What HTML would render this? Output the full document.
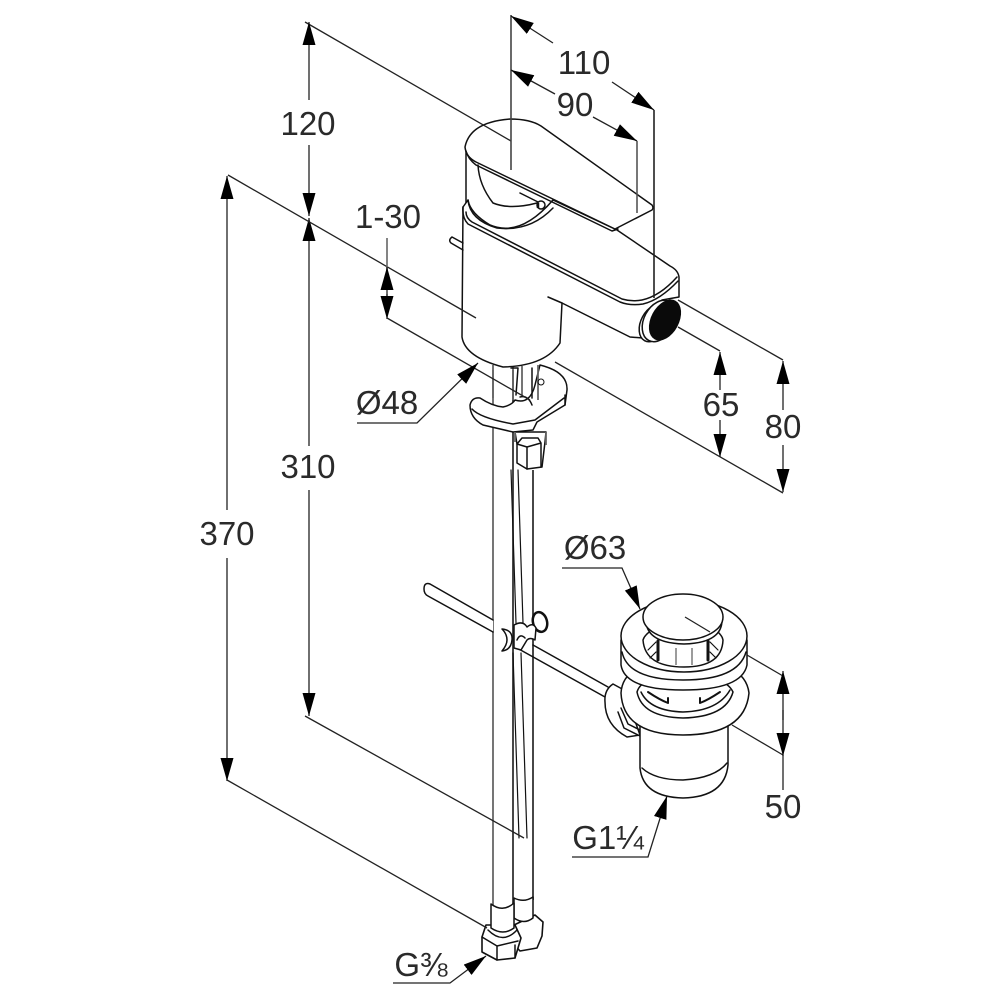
<!DOCTYPE html>
<html><head><meta charset="utf-8"><style>
html,body{margin:0;padding:0;background:#fff}
svg{display:block}
text{font-family:"Liberation Sans",Arial,sans-serif;font-size:33px;fill:#2a2a2a;text-anchor:middle}
.d{stroke:#222;stroke-width:1.3;fill:none}
.a{stroke:#111;stroke-width:1.5;fill:none;stroke-linejoin:round;stroke-linecap:round}
.w{stroke:#111;stroke-width:1.5;fill:#fff;stroke-linejoin:round;stroke-linecap:round}
.g{stroke:#666;stroke-width:1.8;fill:none}
</style></head><body>
<svg width="1000" height="1000" viewBox="0 0 1000 1000" xmlns="http://www.w3.org/2000/svg">
<defs><marker id="m" markerUnits="userSpaceOnUse" markerWidth="26" markerHeight="14" refX="23" refY="6.5" orient="auto"><path d="M0 0L23 6.5L0 13z" fill="#000"/></marker></defs>
<rect width="1000" height="1000" fill="#fff"/>

<!-- long pipes -->
<path class="g" d="M493 370V905"/>
<path d="M513 370V905M533 470V900" stroke="#333" stroke-width="1.8" fill="none"/>
<path class="a" d="M511 470L516 623M518 470L523 623M513 653L519 838M521 653L527 838" style="stroke-width:1.2"/>

<!-- rod -->
<path class="w" d="M493 620L430 584Q424 582 424 589Q424 594 428 596L493 632"/>
<path class="a" d="M533 645L608 687M517 648L605 697"/>
<!-- knob and clamp -->
<ellipse class="w" cx="540" cy="622" rx="7" ry="10" style="stroke-width:2.5" transform="rotate(-15 540 622)"/>
<path class="w" d="M514 625Q523 620 527 627Q533 622 536 628L535 640Q530 637 527 640L521 650L514 648Z"/>
<path class="w" d="M502 629Q513 630 512 640Q511 650 502 651Q507 645 507 640Q507 634 502 629Z"/>
<path class="a" d="M517 640Q520 633 525 638"/>

<!-- base nuts -->
<path class="w" d="M514 925L535 915L543 922L542 936L537 948L520 951L510 940Z" style="stroke-width:1.6"/>
<path class="w" d="M514 898V918Q524 925 533 918V897Q524 903 514 898Z"/>
<path class="w" d="M486 925L482 937L482 952L497 960L515 958L521 938L515 925Z" style="stroke-width:1.6"/>
<path class="a" d="M482 937L497 946L518 941M497 946L497 960M515 945L515 958M488 930Q503 945 517 930"/>
<path class="w" d="M491 904V928Q503 936 514 928V903Q503 913 491 904Z"/>

<!-- bracket -->
<path class="w" d="M540 365Q568 372 567 390L565 405L537 422L533 430L513 432L483 425Q470 418 470 405Q472 397 480 398Q492 406 503 407Q512 405 515 400Q530 405 535 385Z"/>
<path class="a" d="M472 409Q480 418 513 424L535 420L564 398M565 395V405"/>
<path class="g" d="M493 365V398M513 365V400M522 366V395M538 365V400"/>
<path class="a" d="M511 368L518 368L516 395M532 368V398"/>
<circle class="a" cx="541" cy="382" r="3" style="stroke-width:1"/>
<path class="a" d="M520 397Q528 395 532 405"/>
<!-- nut under bracket -->
<path class="w" d="M515 432L517 444L517 463L527 469L542 467L545 442L546 432Z"/>
<path class="a" d="M517 444L522 438H538L541 443L527 447L517 444M527 447V469M541 443V467"/>
<path class="g" d="M546 432V445M515 432V442"/>

<!-- drain -->
<path class="w" d="M605 702Q604 690 613 684L624 690L640 735L627 737Q605 725 605 702Z"/>
<path class="a" d="M618 712L624 728L640 736M621 708L628 724L640 730"/>
<path class="w" d="M640 725V768Q643 797 683 798Q725 797 728 765V725Z"/>
<path class="a" d="M642 768Q655 780 683 780Q715 778 727 763"/>
<path class="w" d="M621 693Q623 735 683 735Q745 735 749 693Q745 660 683 660Q623 660 621 693Z"/>
<path class="w" d="M637 692Q642 717 683 718Q726 717 733 692Q725 675 683 675Q642 675 637 692Z"/>
<path class="a" d="M641 692Q650 711 683 712Q718 711 730 690"/>
<path class="a" d="M648 692Q660 700 668 703L668 698M720 692Q708 700 700 703L700 698" style="stroke-width:2"/>
<path class="w" d="M621 640V665Q625 690 683 690Q742 690 747 665V640Z"/>
<path class="a" d="M622 652Q628 680 683 680Q738 680 746 652"/>
<ellipse class="w" cx="684" cy="636" rx="63" ry="36"/>
<path class="w" d="M643 640Q645 667 684 667Q722 667 723 640Q720 625 684 625Q648 625 643 640Z"/>
<path class="w" d="M658 643V662Q684 668 708 662V643Z" style="stroke:none"/>
<path class="a" d="M658 641V660M708 641V660" style="stroke-width:3"/>
<path class="g" d="M676 648V665M692 648V665" style="stroke-width:1.3"/>
<path class="a" d="M648 650L656 642M650 658L656 652M718 650L710 642M716 658L710 652" style="stroke-width:1.2"/>
<path class="w" d="M646 620Q646 643 684 644Q722 643 722 620Z"/>
<ellipse class="w" cx="683" cy="617" rx="40" ry="23"/>

<!-- lever neck -->
<path d="M466 150V205L500 235L553 212L540 180Z" fill="#fff"/>
<path class="a" d="M466 150V205"/>
<path class="a" d="M478 165Q479 185 493 203Q510 210 537 203M520 193L540 203"/>
<ellipse cx="541" cy="205" rx="4" ry="4" fill="#fff" stroke="#111" stroke-width="1.5"/>
<path d="M538 203v5" stroke="#111" stroke-width="2.5"/>

<!-- body -->
<path class="w" d="M463 207L462 337Q465 357 503 367Q545 366 560 343L562 303L630 337L643 338L662 300L679 297V277Q678 270 670 266L617 230L553 200Q520 238 490 225Q470 213 468 200Z"/>
<path class="a" d="M468 200Q470 220 497 228Q530 232 553 208"/>
<path class="a" d="M463 207Q462 218 468 224L620 302Q630 306 643 304Q660 300 678 281"/>
<path class="a" d="M466 212Q466 218 472 222L622 299Q632 302 642 300Q660 296 677 277"/>
<path class="a" d="M451 243L463 250M452 237L463 243M452 237Q448 240 451 243"/>
<path class="a" d="M548 297L562 303"/>
<!-- aerator -->
<ellipse class="w" cx="654" cy="323" rx="13" ry="20" transform="rotate(28 654 323)"/>
<ellipse class="w" cx="659" cy="321" rx="15" ry="22" transform="rotate(28 659 321)"/>
<ellipse cx="665" cy="320" rx="14" ry="22" fill="#0a0a0a" transform="rotate(28 665 320)"/>

<!-- lever -->
<path class="w" d="M465 147Q470 122 510 119Q530 119 541 126L652 205Q654 208 652 210L615 229L476 162Q466 157 465 147Z"/>
<path class="a" d="M466 151Q468 159 476 165L612 231L618 229"/>

<!-- dimension lines -->
<g class="d">
<path d="M305 22L511 141"/>
<path d="M309 100V22" marker-end="url(#m)"/>
<path d="M309 145V216" marker-end="url(#m)"/>
<path d="M309 446V218" marker-end="url(#m)"/>
<path d="M309 490V716" marker-end="url(#m)"/>
<path d="M227 510V176" marker-end="url(#m)"/>
<path d="M227 558V781" marker-end="url(#m)"/>
<path d="M228 175L476 318"/>
<path d="M305 716L524 838"/>
<path d="M227 780L487 928"/>

<path d="M511 15V170" stroke="#444" style="stroke-width:1.6"/>
<path d="M553 43L511 16" marker-end="url(#m)"/>
<path d="M612 82L654 110" marker-end="url(#m)"/>
<path d="M654 110V298" style="stroke-width:1.6"/>
<path d="M555 94L511 70" marker-end="url(#m)"/>
<path d="M593 117L637 141" marker-end="url(#m)"/>
<path d="M637 141V213" style="stroke:#555;stroke-width:1.6"/>

<path d="M387 238V290" style="stroke:#666;stroke-width:1.6"/>
<path d="M387 296V267" marker-end="url(#m)"/>
<path d="M387 294V319" marker-end="url(#m)"/>
<path d="M387 318L530 400"/>
<path d="M555 362L783 493"/>
<path d="M678 327L720 351"/>
<path d="M678 300L783 360"/>
<path d="M720 390V352" marker-end="url(#m)"/>
<path d="M720 420V457" marker-end="url(#m)"/>
<path d="M783 410V361" marker-end="url(#m)"/>
<path d="M783 445V492" marker-end="url(#m)"/>

<path d="M357 423H417L478 363" marker-end="url(#m)"/>
<path d="M562 568H622L640 609" marker-end="url(#m)"/>
<path d="M572 857H648L667 796" marker-end="url(#m)"/>
<path d="M393 983H450L486 956" marker-end="url(#m)"/>

<path d="M685 617L710 632M747 655L783 676"/>
<path d="M732 725L783 755"/>
<path d="M783 720V671" marker-end="url(#m)"/>
<path d="M783 710V756" marker-end="url(#m)"/>
<path d="M783 755V790"/>
</g>

<text x="308" y="135">120</text>
<text x="308" y="478">310</text>
<text x="227" y="545">370</text>
<text x="388" y="228">1-30</text>
<text x="584" y="74">110</text>
<text x="575" y="116">90</text>
<text x="721" y="416">65</text>
<text x="783" y="438">80</text>
<text x="387" y="414">Ø48</text>
<text x="595" y="559">Ø63</text>
<text x="783" y="818">50</text>
<text x="608" y="849">G1¼</text>
<text x="421" y="976">G⅜</text>
</svg>
</body></html>
